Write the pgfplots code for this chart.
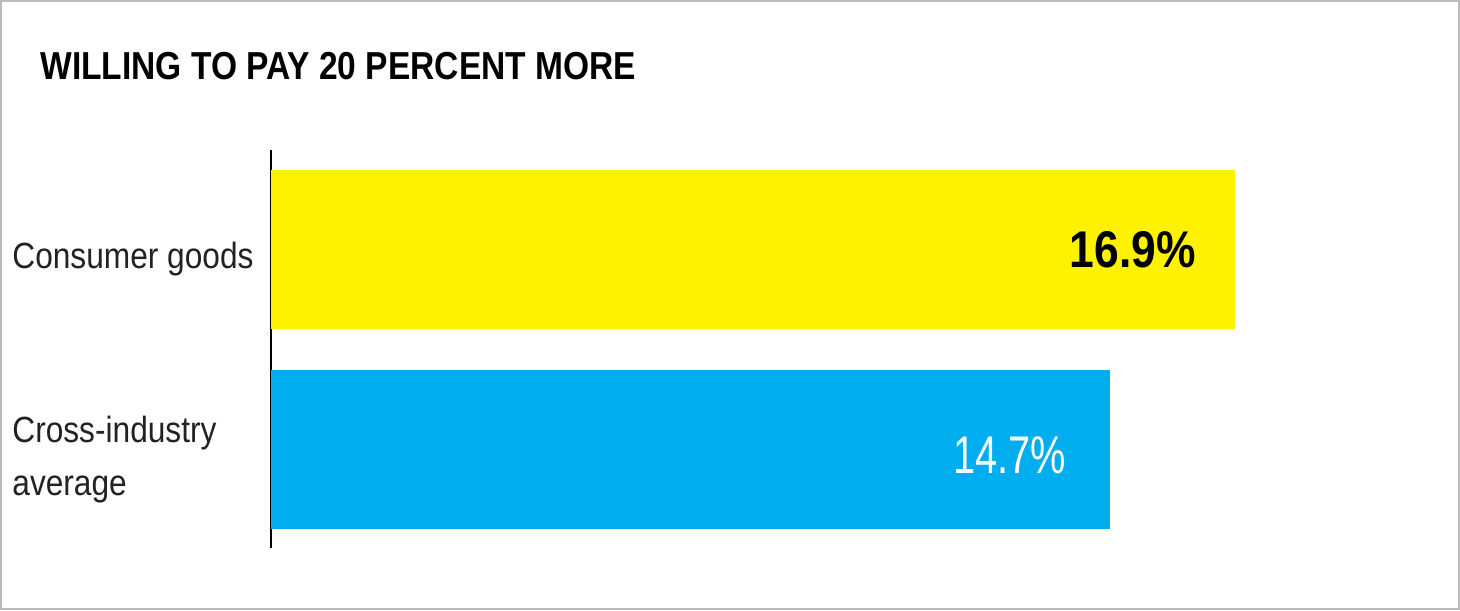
\documentclass[border=0pt]{standalone}
\usepackage{fontspec}
\setmainfont{Liberation Sans}
\newfontfamily\condfont{Liberation Sans}[FakeStretch=0.87]
\newfontfamily\titlefont{Liberation Sans}[FakeStretch=0.86]
\newfontfamily\valfont{Liberation Sans}[FakeStretch=0.86]
\newfontfamily\lightfont{Liberation Sans}[FakeStretch=0.75]
\usepackage{pgfplots}
\pgfplotsset{compat=1.18}
\definecolor{barYellow}{HTML}{FFF200}
\definecolor{barBlue}{HTML}{00AEEF}
\definecolor{frameGray}{HTML}{BBBBBB}
\definecolor{labelText}{HTML}{222222}

\begin{document}
\begin{tikzpicture}
\useasboundingbox (0,0) rectangle (730pt,-305pt);
\draw[frameGray, line width=1pt] (0.5pt,-0.5pt) rectangle (729.5pt,-304.5pt);
\node[anchor=base west, inner sep=0pt,
  font=\titlefont\bfseries\fontsize{19.5pt}{20pt}\selectfont]
  at (20pt,-40pt) {WILLING TO PAY 20 PERCENT MORE};
\begin{axis}[
  at={(135.5pt,-274pt)}, anchor=south west,
  scale only axis, width=570.5pt, height=199pt,
  xbar, bar width=0.795, bar shift=0pt,
  xmin=0, xmax=20, ymin=-0.4925, ymax=1.4975,
  axis x line=none, axis y line*=left,
  y axis line style={line width=1pt, black},
  ytick={0,1},
  yticklabels={{Cross-industry\\average},{Consumer goods}},
  major tick length=0pt,
  yticklabel style={anchor=west, align=left, inner sep=0pt,
    xshift=-129.5pt, yshift=-5pt, text=labelText,
    font=\condfont\fontsize{18.2pt}{26.5pt}\selectfont},
  clip=false,
]
\addplot[draw=none, fill=barYellow,
  nodes near coords={\pgfmathprintnumber[fixed,precision=1,fixed zerofill,assume math mode=true]{\pgfplotspointmeta}\%},
  nodes near coords style={anchor=east, inner sep=0pt, xshift=-19.5pt, black,
    font=\valfont\bfseries\fontsize{25.8pt}{26pt}\selectfont}]
  coordinates {(16.9,1)};
\addplot[draw=none, fill=barBlue,
  nodes near coords={\pgfmathprintnumber[fixed,precision=1,fixed zerofill,assume math mode=true]{\pgfplotspointmeta}\%},
  nodes near coords style={anchor=east, inner sep=0pt, xshift=-21.5pt, yshift=-3pt, white,
    font=\lightfont\fontsize{26.5pt}{27pt}\selectfont}]
  coordinates {(14.7,0)};
\end{axis}
\end{tikzpicture}
\end{document}
